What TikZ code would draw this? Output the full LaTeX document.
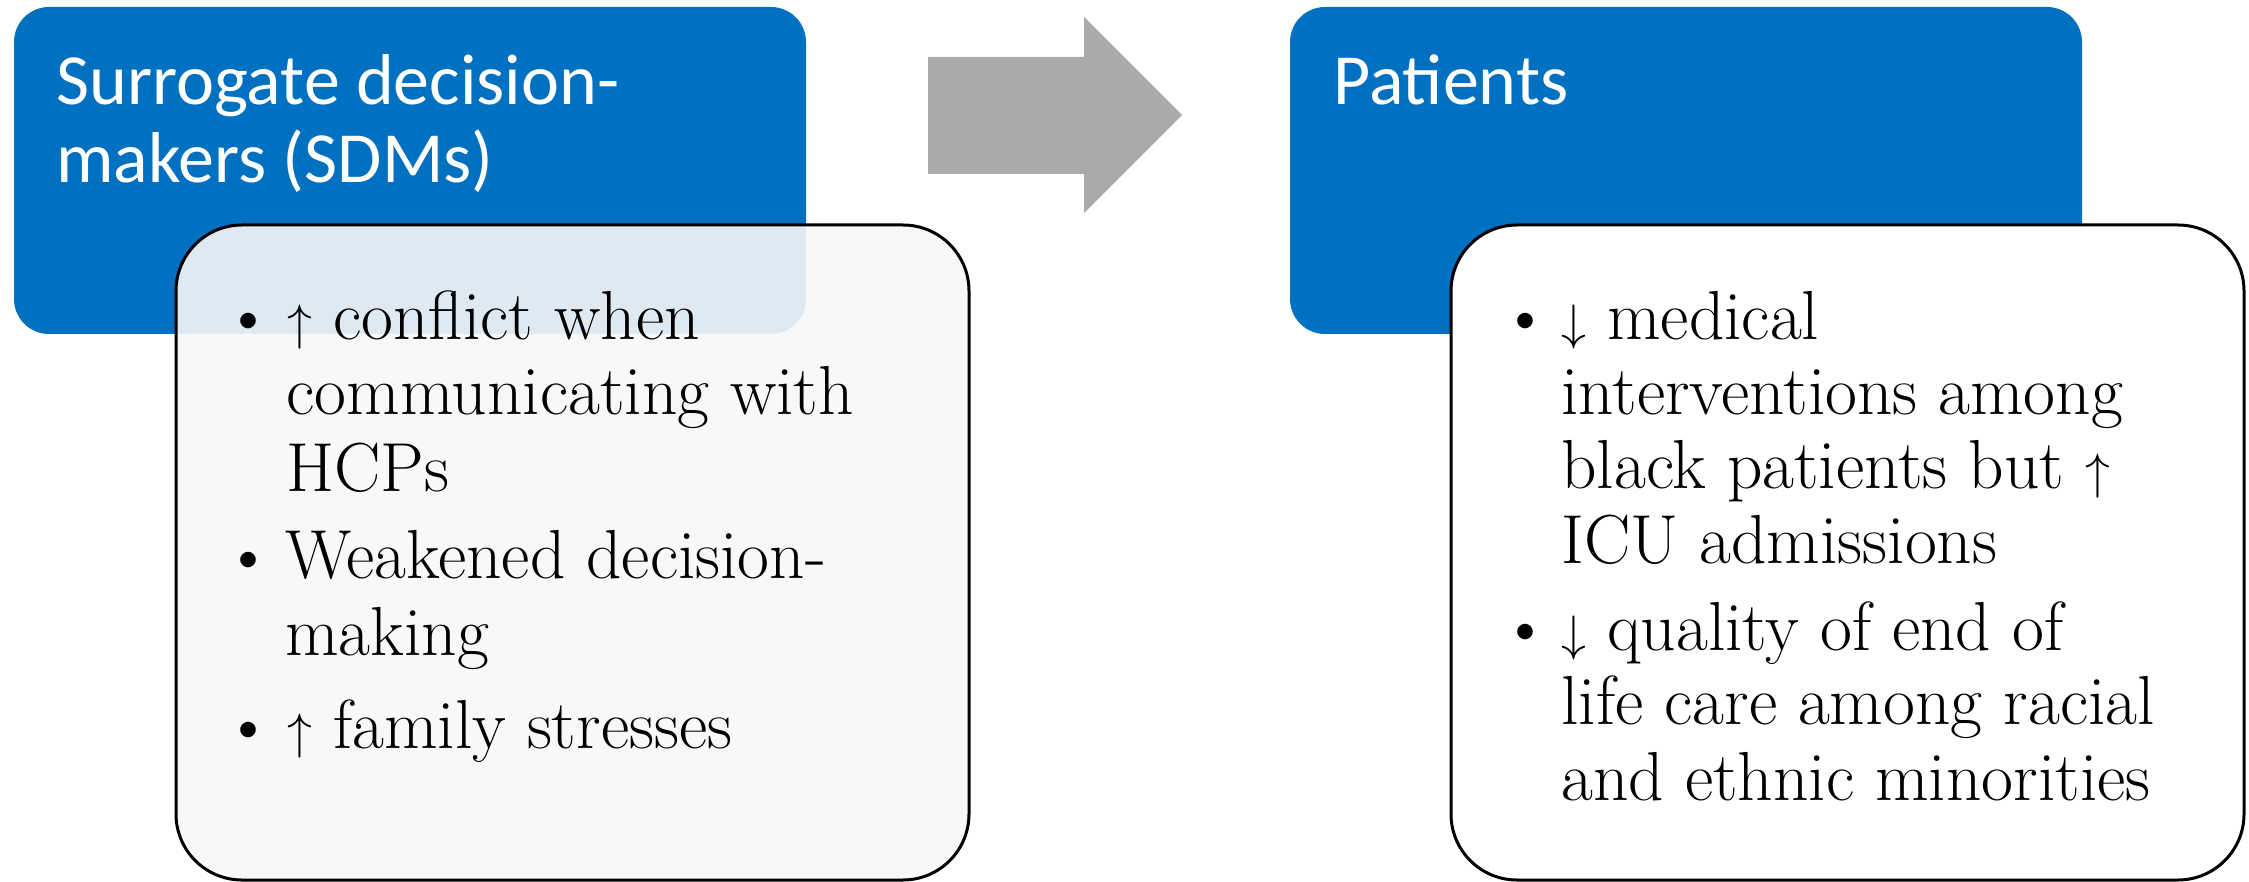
\documentclass[tikz,border=0pt]{standalone}
\usepackage{fontspec}
\newfontfamily\titlefont{Carlito}
\definecolor{sdmblue}{RGB}{0,112,192}
\definecolor{arrowgray}{RGB}{170,170,170}
\definecolor{panelgray}{RGB}{247,247,247}
\begin{document}
\begin{tikzpicture}[x=0.5pt,y=-0.5pt,
  titlebox/.style={fill=sdmblue, rounded corners=17.5pt, minimum width=396pt,
    minimum height=163.5pt, anchor=north west, inner sep=0pt, outer sep=0pt},
  listbox/.style={draw=black, line width=1.5pt, rounded corners=33pt,
    minimum width=396.5pt, minimum height=327.5pt, anchor=north west, inner sep=0pt, outer sep=0pt},
  titletext/.style={anchor=base west, inner sep=0pt, text=white,
    font=\titlefont\fontsize{36}{40}\selectfont},
  bodytext/.style={anchor=base west, inner sep=0pt,
    font=\fontsize{34.7}{38}\selectfont},
  bulletmark/.style={anchor=base, inner sep=0pt,
    font=\fontsize{34.7}{38}\selectfont}
]
\useasboundingbox (0,0) rectangle (2249,882);

% left group
\node[titlebox] (sdmbox) at (14,7) {};
\node[listbox, fill=panelgray, fill opacity=0.9] (sdmlist) at (176,225) {};

% block arrow
\coordinate (a1) at (928,57);
\coordinate (a2) at (1084,57);
\coordinate (a3) at (1084,17);
\coordinate (a4) at (1182,115);
\coordinate (a5) at (1084,213);
\coordinate (a6) at (1084,174);
\coordinate (a7) at (928,174);
\fill[arrowgray] (a1) -- (a2) -- (a3) -- (a4) -- (a5) -- (a6) -- (a7) -- cycle;

% right group
\node[titlebox] (patbox) at (1290,7) {};
\node[listbox, fill=white] (patlist) at (1451,225) {};

% titles
\node[titletext] (t1) at (56,105) {Surrogate decision-};
\node[titletext] (t2) at (56,183) {makers (SDMs)};
\node[titletext] (t3) at (1333,105) {Patients};

% left bullets
\node[bulletmark] (lb1) at (248,340) {\textbullet};
\node[bodytext] (l1) at (287,340) {$\uparrow$ conflict when};
\node[bodytext] (l2) at (286,414) {communicating with};
\node[bodytext] (l3) at (286,491) {HCPs};
\node[bulletmark] (lb2) at (248,578) {\textbullet};
\node[bodytext] (l4) at (285,578) {Weakened decision-};
\node[bodytext] (l5) at (285,655) {making};
\node[bulletmark] (lb3) at (248,748) {\textbullet};
\node[bodytext] (l6) at (287,748) {$\uparrow$ family stresses};

% right bullets
\node[bulletmark] (rb1) at (1525,340) {\textbullet};
\node[bodytext] (r1) at (1561,340) {$\downarrow$ medical};
\node[bodytext] (r2) at (1561,414) {interventions among};
\node[bodytext] (r3) at (1561,488) {black patients but $\uparrow$};
\node[bodytext] (r4) at (1561,563) {ICU admissions};
\node[bulletmark] (rb2) at (1525,650) {\textbullet};
\node[bodytext] (r5) at (1561,650) {$\downarrow$ quality of end of};
\node[bodytext] (r6) at (1561,724) {life care among racial};
\node[bodytext] (r7) at (1561,800) {and ethnic minorities};
\end{tikzpicture}
\end{document}
